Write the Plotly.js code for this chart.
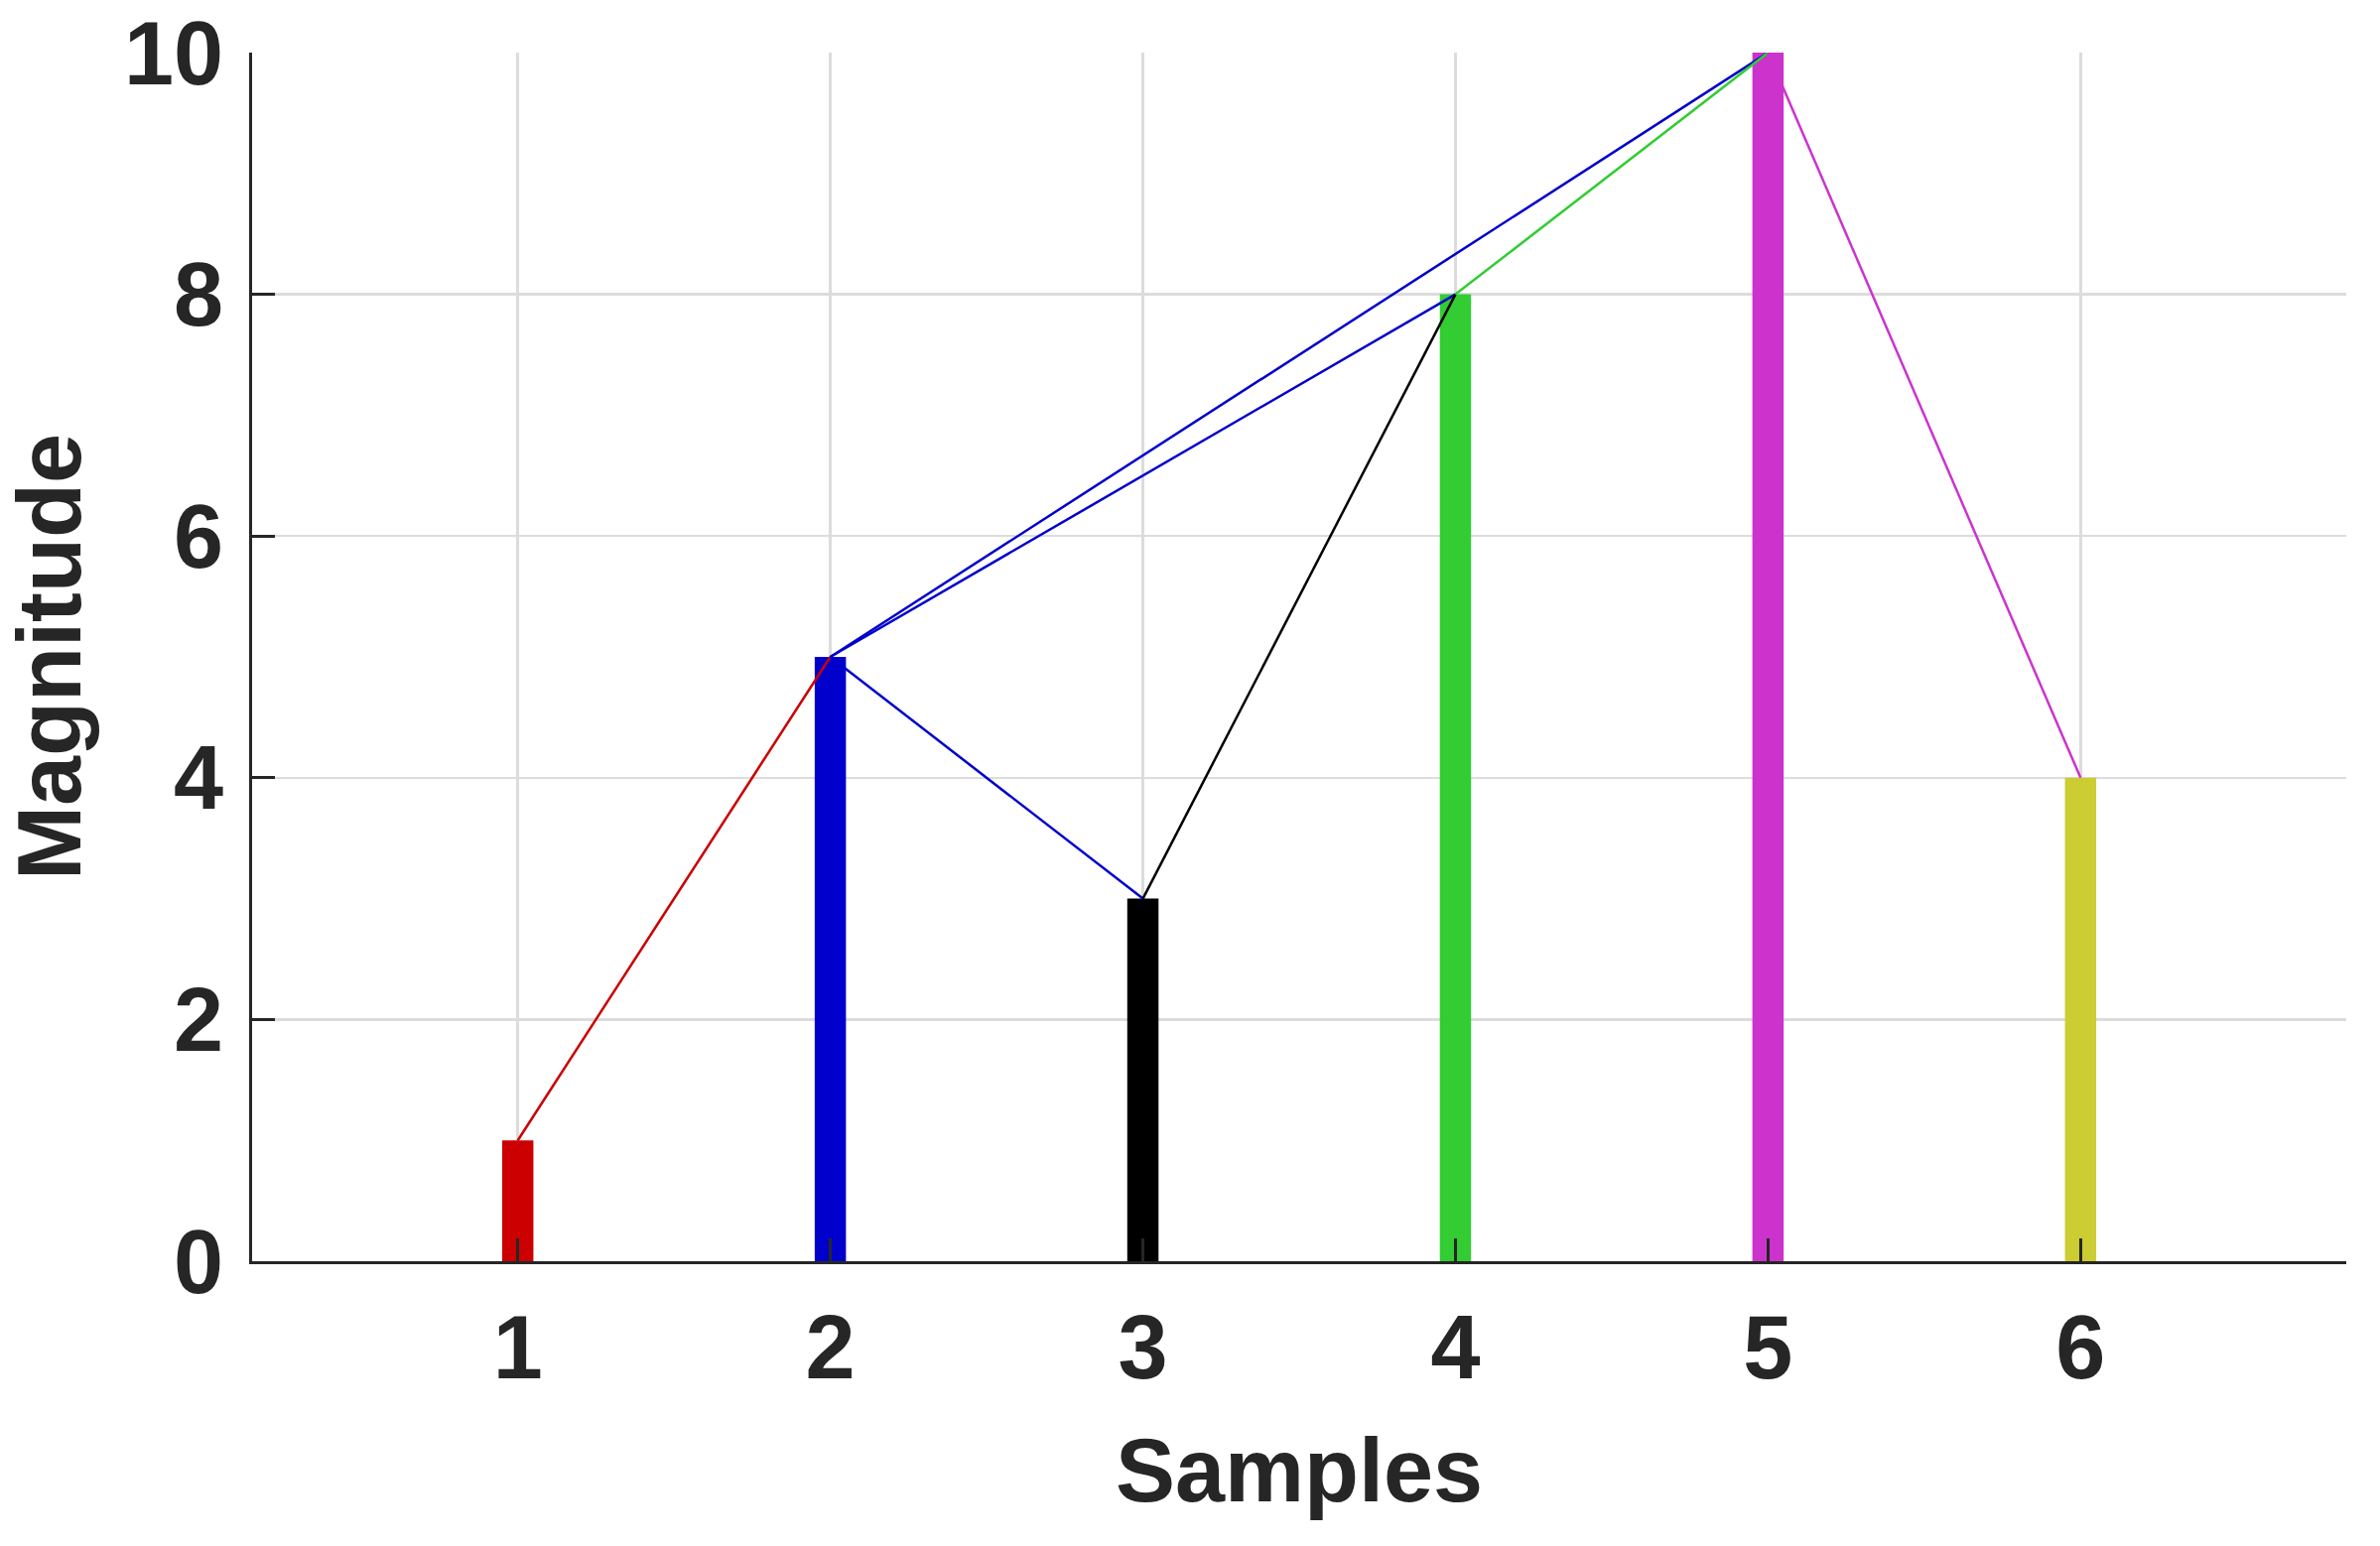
<!DOCTYPE html>
<html>
<head>
<meta charset="utf-8">
<script src="https://cdn.plot.ly/plotly-3.0.1.min.js"></script>
<style>
  html, body { margin: 0; padding: 0; background: #ffffff; }
  #chart { width: 2398px; height: 1558px; }
</style>
</head>
<body>
<div id="chart"></div>
<script>
// sample index and the magnitude of each stem
const samples = [1, 2, 3, 4, 5, 6];
const magnitudes = [1, 5, 3, 8, 10, 4];
const barColors = ["#cc0000", "#0000cc", "#000000", "#33cc33", "#cc33cc", "#cccc33"];

// links between samples, coloured by the sample they start from
const linkFrom = [1, 2, 2, 2, 3, 4, 5];
const linkTo = [2, 3, 4, 5, 4, 5, 6];

const xTicks = [1, 2, 3, 4, 5, 6];
const yTicks = [0, 2, 4, 6, 8, 10];

const axisColor = "#262626";
const gridColor = "#dcdcdc";
const font = { family: "Liberation Sans, Arial, sans-serif", size: 90, color: axisColor, weight: "bold" };

const barTrace = {
    type: "bar",
    x: samples,
    y: magnitudes,
    width: 0.1,
    marker: { color: barColors, line: { width: 0 } },
    hoverinfo: "x+y",
};

const linkTraces = linkFrom.map((from, i) => {
    const to = linkTo[i];
    return {
        type: "scatter",
        mode: "lines",
        x: [from, to],
        y: [magnitudes[from - 1], magnitudes[to - 1]],
        line: { color: barColors[from - 1], width: 2.5 },
        hoverinfo: "skip",
    };
});

const layout = {
    width: 2398,
    height: 1558,
    paper_bgcolor: "#ffffff",
    plot_bgcolor: "#ffffff",
    showlegend: false,
    font: font,
    margin: { l: 254, r: 34, t: 53, b: 287 },
    xaxis: {
        range: [0.15, 6.85],
        tickvals: xTicks,
        ticktext: xTicks.map(String),
        ticks: "inside",
        ticklen: 23,
        tickwidth: 3,
        tickcolor: axisColor,
        showline: true,
        linecolor: axisColor,
        linewidth: 3,
        showgrid: true,
        gridcolor: gridColor,
        gridwidth: 2.5,
        zeroline: false,
        tickfont: font,
        ticklabelstandoff: 7,
        title: { text: "Samples", font: font, standoff: 43 },
    },
    yaxis: {
        range: [0, 10],
        tickvals: yTicks,
        ticktext: yTicks.map(String),
        ticks: "inside",
        ticklen: 23,
        tickwidth: 3,
        tickcolor: axisColor,
        showline: true,
        linecolor: axisColor,
        linewidth: 3,
        showgrid: true,
        gridcolor: gridColor,
        gridwidth: 2.5,
        zeroline: false,
        tickfont: font,
        ticklabelstandoff: 8,
        title: { text: "Magnitude", font: font, standoff: 49 },
    },
};

Plotly.newPlot("chart", [barTrace].concat(linkTraces), layout, { displayModeBar: false, staticPlot: true });
</script>
</body>
</html>
